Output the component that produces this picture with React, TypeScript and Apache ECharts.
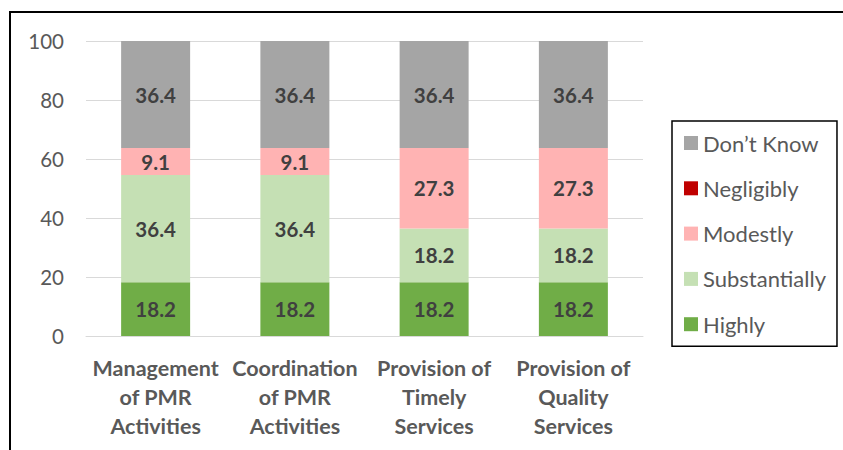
import React, { useEffect, useRef } from "react";
import * as echarts from "echarts";

const categories = [
  "Management\nof PMR\nActivities",
  "Coordination\nof PMR\nActivities",
  "Provision of\nTimely\nServices",
  "Provision of\nQuality\nServices",
];
const highly = [18.2, 18.2, 18.2, 18.2];
const substantially = [36.4, 36.4, 18.2, 18.2];
const modestly = [9.1, 9.1, 27.3, 27.3];
const negligibly = [0, 0, 0, 0];
const dontKnow = [36.4, 36.4, 36.4, 36.4];
const legendOrder = ["Don\u2019t Know", "Negligibly", "Modestly", "Substantially", "Highly"];

const FONT = "Lato, 'Open Sans', sans-serif";

export default function App() {
  const ref = useRef<HTMLDivElement>(null);
  useEffect(() => {
    if (!ref.current) return;
    const chart = echarts.init(ref.current, undefined, { renderer: "svg" });
    const mk = (name: string, data: number[], color: string) => ({
      name,
      type: "bar",
      stack: "total",
      data,
      barWidth: 69,
      itemStyle: { color },
      label: {
        show: true,
        position: "inside",
        formatter: (p: any) => (p.value ? Number(p.value).toFixed(1) : ""),
        fontFamily: FONT,
        fontWeight: "bold",
        fontSize: 20.5,
        color: "#404040",
      },
    });
    chart.setOption({
      animation: false,
      backgroundColor: "#ffffff",
      textStyle: { fontFamily: FONT },
      graphic: [
        {
          type: "rect",
          shape: { x: 10, y: 12, width: 860, height: 460 },
          style: { fill: "none", stroke: "#000000", lineWidth: 2 },
          silent: true,
        },
      ],
      grid: { left: 86, top: 41, width: 557, height: 295 },
      legend: {
        orient: "vertical",
        left: 672,
        top: 121,
        data: legendOrder,
        icon: "rect",
        itemWidth: 14,
        itemHeight: 14,
        itemGap: 23.3,
        padding: [11, 11, 11, 12],
        borderColor: "#000000",
        borderWidth: 1.5,
        textStyle: { fontFamily: FONT, fontSize: 22, color: "#595959", lineHeight: 22 },
      },
      xAxis: {
        type: "category",
        data: categories,
        axisLine: { show: true, lineStyle: { color: "#D9D9D9", width: 1 } },
        axisTick: { show: false },
        axisLabel: {
          interval: 0,
          fontFamily: FONT,
          fontWeight: "bold",
          fontSize: 21.5,
          color: "#595959",
          lineHeight: 29,
          margin: 17,
        },
      },
      yAxis: {
        type: "value",
        min: 0,
        max: 100,
        interval: 20,
        axisLine: { show: false },
        axisTick: { show: false },
        splitLine: { lineStyle: { color: "#D9D9D9", width: 1 } },
        axisLabel: { fontFamily: FONT, fontSize: 20.5, color: "#595959", margin: 22 },
      },
      series: [
        mk("Highly", highly, "#70AD47"),
        mk("Substantially", substantially, "#C5E0B4"),
        mk("Modestly", modestly, "#FFB3B3"),
        mk("Negligibly", negligibly, "#C00000"),
        mk("Don\u2019t Know", dontKnow, "#A5A5A5"),
      ],
    });
    return () => chart.dispose();
  }, []);
  return (
    <div
      ref={ref}
      style={{ position: "fixed", left: 0, top: 0, width: 843, height: 450 }}
    />
  );
}
